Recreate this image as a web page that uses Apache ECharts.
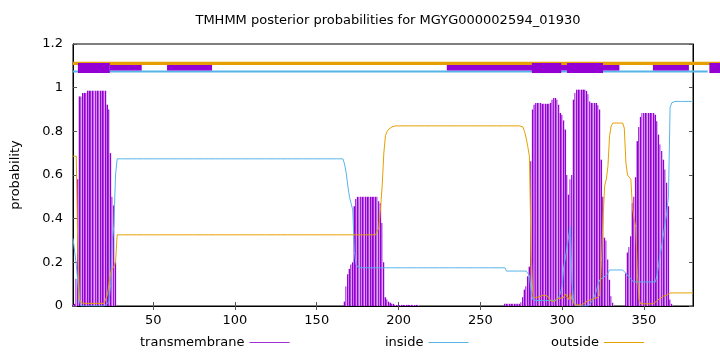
<!DOCTYPE html>
<html><head><meta charset="utf-8">
<script src="https://cdn.jsdelivr.net/npm/echarts@6/dist/echarts.min.js"></script>
<style>html,body{margin:0;padding:0;background:#fff}#c{width:720px;height:352px}</style>
</head><body><div id="c"></div>
<script>
const chartTitle = 'TMHMM posterior probabilities for MGYG000002594_01930';
const seqStart = 1;
const seqEnd = 380;
const xTickValues = [50, 100, 150, 200, 250, 300, 350];
const legendNames = ['transmembrane', 'inside', 'outside'];

// posterior probability per residue (1..380)
const tm = [
0.005,0.01,0.125,0.58,0.96,0.96,0.976,0.976,0.976,0.986,
0.986,0.986,0.986,0.986,0.986,0.986,0.986,0.986,0.986,0.986,
0.986,0.922,0.9,0.7,0.5,0.46,0.2,0,0,0,
0,0,0,0,0,0,0,0,0,0,
0,0,0,0,0,0,0,0,0,0,
0,0,0,0,0,0,0,0,0,0,
0,0,0,0,0,0,0,0,0,0,
0,0,0,0,0,0,0,0,0,0,
0,0,0,0,0,0,0,0,0,0,
0,0,0,0,0,0,0,0,0,0,
0,0,0,0,0,0,0,0,0,0,
0,0,0,0,0,0,0,0,0,0,
0,0,0,0,0,0,0,0,0,0,
0,0,0,0,0,0,0,0,0,0,
0,0,0,0,0,0,0,0,0,0,
0,0,0,0,0,0,0,0,0,0,
0,0,0,0,0,0,0.02,0.09,0.145,0.17,
0.19,0.2,0.457,0.49,0.5,0.5,0.5,0.5,0.5,0.5,
0.5,0.5,0.5,0.5,0.5,0.5,0.5,0.48,0.47,0.38,
0.2,0.04,0.03,0.02,0.015,0.01,0.01,0.005,0.005,0.005,
0.005,0.005,0.005,0.005,0.005,0.005,0.005,0.005,0.005,0.005,
0.005,0.005,0,0,0,0,0,0,0,0,
0,0,0,0,0,0,0,0,0,0,
0,0,0,0,0,0,0,0,0,0,
0,0,0,0,0,0,0,0,0,0,
0,0,0,0,0,0,0,0,0,0,
0,0,0,0,0.01,0.01,0.01,0.01,0.01,0.01,
0.01,0.01,0.01,0.01,0.017,0.04,0.075,0.09,0.136,0.18,
0.663,0.9,0.922,0.93,0.93,0.93,0.93,0.926,0.926,0.926,
0.926,0.926,0.93,0.945,0.953,0.953,0.945,0.922,0.884,0.876,
0.85,0.808,0.6,0.51,0.58,0.6,0.945,0.976,0.991,0.991,
0.991,0.991,0.991,0.991,0.985,0.97,0.937,0.93,0.93,0.93,
0.93,0.92,0.9,0.67,0.5,0.313,0.3,0.213,0.12,0.045,
0.015,0,0,0,0,0,0,0,0.15,0.245,
0.27,0.32,0.47,0.5,0.59,0.755,0.82,0.866,0.884,0.884,
0.884,0.884,0.884,0.884,0.884,0.884,0.876,0.846,0.785,0.74,
0.71,0.67,0.625,0.564,0.457,0.03,0.01,0,0,0,
0,0,0,0,0,0,0,0,0,0
];

const inside = [
0.31,0.31,0.19,0.19,0.02,0,0,0,0,0,
0,0,0,0,0,0,0,0,0,0,
0,0.01,0.02,0.1,0.3,0.37,0.6,0.674,0.674,0.674,
0.674,0.674,0.674,0.674,0.674,0.674,0.674,0.674,0.674,0.674,
0.674,0.674,0.674,0.674,0.674,0.674,0.674,0.674,0.674,0.674,
0.674,0.674,0.674,0.674,0.674,0.674,0.674,0.674,0.674,0.674,
0.674,0.674,0.674,0.674,0.674,0.674,0.674,0.674,0.674,0.674,
0.674,0.674,0.674,0.674,0.674,0.674,0.674,0.674,0.674,0.674,
0.674,0.674,0.674,0.674,0.674,0.674,0.674,0.674,0.674,0.674,
0.674,0.674,0.674,0.674,0.674,0.674,0.674,0.674,0.674,0.674,
0.674,0.674,0.674,0.674,0.674,0.674,0.674,0.674,0.674,0.674,
0.674,0.674,0.674,0.674,0.674,0.674,0.674,0.674,0.674,0.674,
0.674,0.674,0.674,0.674,0.674,0.674,0.674,0.674,0.674,0.674,
0.674,0.674,0.674,0.674,0.674,0.674,0.674,0.674,0.674,0.674,
0.674,0.674,0.674,0.674,0.674,0.674,0.674,0.674,0.674,0.674,
0.674,0.674,0.674,0.674,0.674,0.674,0.674,0.674,0.674,0.674,
0.674,0.674,0.674,0.674,0.674,0.674,0.65,0.61,0.55,0.5,
0.47,0.44,0.25,0.19,0.18,0.175,0.175,0.175,0.175,0.175,
0.175,0.175,0.175,0.175,0.175,0.175,0.175,0.175,0.175,0.175,
0.175,0.175,0.175,0.175,0.175,0.175,0.175,0.175,0.175,0.175,
0.175,0.175,0.175,0.175,0.175,0.175,0.175,0.175,0.175,0.175,
0.175,0.175,0.175,0.175,0.175,0.175,0.175,0.175,0.175,0.175,
0.175,0.175,0.175,0.175,0.175,0.175,0.175,0.175,0.175,0.175,
0.175,0.175,0.175,0.175,0.175,0.175,0.175,0.175,0.175,0.175,
0.175,0.175,0.175,0.175,0.175,0.175,0.175,0.175,0.175,0.175,
0.175,0.175,0.175,0.175,0.175,0.175,0.175,0.175,0.175,0.175,
0.175,0.175,0.175,0.175,0.175,0.16,0.16,0.16,0.16,0.16,
0.16,0.16,0.16,0.16,0.16,0.16,0.16,0.16,0.155,0.14,
0.075,0.03,0.025,0.025,0.025,0.025,0.025,0.025,0.025,0.025,
0.025,0.025,0.025,0.025,0.025,0.025,0.02,0.04,0.06,0.09,
0.18,0.22,0.27,0.32,0.365,0.12,0.02,0.005,0,0,
0,0,0,0,0,0,0,0.02,0.03,0.05,
0.07,0.1,0.12,0.125,0.13,0.135,0.14,0.15,0.165,0.165,
0.165,0.165,0.165,0.165,0.165,0.165,0.165,0.16,0.15,0.14,
0.136,0.125,0.114,0.11,0.11,0.11,0.11,0.11,0.11,0.11,
0.11,0.11,0.11,0.11,0.11,0.11,0.11,0.14,0.19,0.24,
0.28,0.33,0.38,0.43,0.5,0.91,0.93,0.937,0.937,0.937,
0.937,0.937,0.937,0.937,0.937,0.937,0.937,0.937,0.937,0.937
];

const outside = [
0.686,0.686,0.686,0.23,0.03,0.015,0.012,0.012,0.012,0.012,
0.012,0.012,0.012,0.012,0.012,0.012,0.012,0.012,0.012,0.012,
0.012,0.05,0.1,0.15,0.17,0.18,0.2,0.326,0.326,0.326,
0.326,0.326,0.326,0.326,0.326,0.326,0.326,0.326,0.326,0.326,
0.326,0.326,0.326,0.326,0.326,0.326,0.326,0.326,0.326,0.326,
0.326,0.326,0.326,0.326,0.326,0.326,0.326,0.326,0.326,0.326,
0.326,0.326,0.326,0.326,0.326,0.326,0.326,0.326,0.326,0.326,
0.326,0.326,0.326,0.326,0.326,0.326,0.326,0.326,0.326,0.326,
0.326,0.326,0.326,0.326,0.326,0.326,0.326,0.326,0.326,0.326,
0.326,0.326,0.326,0.326,0.326,0.326,0.326,0.326,0.326,0.326,
0.326,0.326,0.326,0.326,0.326,0.326,0.326,0.326,0.326,0.326,
0.326,0.326,0.326,0.326,0.326,0.326,0.326,0.326,0.326,0.326,
0.326,0.326,0.326,0.326,0.326,0.326,0.326,0.326,0.326,0.326,
0.326,0.326,0.326,0.326,0.326,0.326,0.326,0.326,0.326,0.326,
0.326,0.326,0.326,0.326,0.326,0.326,0.326,0.326,0.326,0.326,
0.326,0.326,0.326,0.326,0.326,0.326,0.326,0.326,0.326,0.326,
0.326,0.326,0.326,0.326,0.326,0.326,0.326,0.326,0.326,0.326,
0.326,0.326,0.326,0.326,0.326,0.326,0.326,0.326,0.326,0.326,
0.326,0.326,0.326,0.326,0.326,0.326,0.33,0.36,0.45,0.55,
0.7,0.78,0.8,0.81,0.815,0.82,0.823,0.825,0.825,0.825,
0.825,0.825,0.825,0.825,0.825,0.825,0.825,0.825,0.825,0.825,
0.825,0.825,0.825,0.825,0.825,0.825,0.825,0.825,0.825,0.825,
0.825,0.825,0.825,0.825,0.825,0.825,0.825,0.825,0.825,0.825,
0.825,0.825,0.825,0.825,0.825,0.825,0.825,0.825,0.825,0.825,
0.825,0.825,0.825,0.825,0.825,0.825,0.825,0.825,0.825,0.825,
0.825,0.825,0.825,0.825,0.825,0.825,0.825,0.825,0.825,0.825,
0.825,0.825,0.825,0.825,0.825,0.825,0.825,0.825,0.825,0.825,
0.825,0.825,0.825,0.825,0.825,0.82,0.8,0.77,0.73,0.686,
0.26,0.06,0.037,0.04,0.04,0.042,0.045,0.048,0.05,0.05,
0.045,0.035,0.025,0.02,0.02,0.025,0.035,0.04,0.035,0.03,
0.04,0.055,0.05,0.03,0.06,0.03,0.015,0.005,0.005,0.005,
0.005,0.005,0.01,0.015,0.02,0.025,0.03,0.03,0.03,0.035,
0.035,0.04,0.05,0.2,0.4,0.55,0.58,0.64,0.78,0.825,
0.838,0.838,0.838,0.838,0.838,0.838,0.838,0.815,0.655,0.6,
0.59,0.58,0.45,0.4,0.36,0.15,0.03,0.01,0.01,0.01,
0.01,0.01,0.01,0.01,0.01,0.01,0.015,0.025,0.03,0.035,
0.04,0.045,0.05,0.05,0.055,0.06,0.06,0.06,0.06,0.06,
0.06,0.06,0.06,0.06,0.06,0.06,0.06,0.06,0.06,0.06
];

// topology bars above the plot: [start, end] in residue units
const topoOutside = [[1, 398]];
const topoInside = [[1, 389]];
const topoTmThin = [[23.5, 43], [58.5, 86], [229.5, 335], [355.5, 377.5]];
const topoTmThick = [[4, 23.5], [281.5, 299.5], [303, 325], [390, 397]];

const PURPLE = '#9400d3', BLUE = '#56b4e9', ORANGE = '#e69f00';
const FONT = 'DejaVu Sans';

function toPairs(arr) { return arr.map((v, i) => [seqStart + i, v]); }

function bandSeries(name, segs, yLow, yHigh, color, z) {
  return {
    name: name, type: 'custom', silent: true, clip: false, z: z,
    encode: { x: [0, 1] },
    data: segs,
    renderItem: function (params, api) {
      const a = api.coord([api.value(0), yHigh]);
      const b = api.coord([api.value(1), yLow]);
      return { type: 'rect', shape: { x: a[0], y: a[1], width: b[0] - a[0], height: b[1] - a[1] },
               style: { fill: color } };
    }
  };
}

const impulseFill = new echarts.graphic.LinearGradient(0, 0, 1, 0, [
  { offset: 0, color: '#9400d3' }, { offset: 0.6, color: '#9400d3' },
  { offset: 0.62, color: '#d7a6f1' }, { offset: 1, color: '#d7a6f1' }
]);

const chart = echarts.init(document.getElementById('c'), null, { renderer: 'canvas' });
const legendCommon = { top: 331, itemWidth: 40, itemHeight: 1, icon: 'rect', align: 'right',
  textStyle: { fontFamily: FONT, fontSize: 13, color: '#000' }, selectedMode: false };
chart.setOption({
  animation: false,
  backgroundColor: '#fff',
  title: { text: chartTitle, left: 383, textAlign: 'center', top: 9,
    textStyle: { fontFamily: FONT, fontSize: 13, fontWeight: 'normal', color: '#000' } },
  grid: { left: 73, right: 27, top: 44, bottom: 46, show: true, borderColor: '#000', borderWidth: 1, backgroundColor: 'transparent' },
  legend: [
    Object.assign({ left: 135, data: [{ name: legendNames[0], itemStyle: { color: '#a030d8' } }] }, legendCommon),
    Object.assign({ left: 380, data: [{ name: legendNames[1], itemStyle: { color: BLUE } }] }, legendCommon),
    Object.assign({ left: 546, data: [{ name: legendNames[2], itemStyle: { color: ORANGE } }] }, legendCommon)
  ],
  xAxis: [
    { type: 'value', min: seqStart, max: seqEnd, position: 'bottom',
      axisLine: { show: true, onZero: false, lineStyle: { color: '#000', width: 1 } },
      axisTick: { inside: true, length: 4, customValues: xTickValues, lineStyle: { color: '#555' } },
      axisLabel: { customValues: xTickValues, margin: 8, fontFamily: FONT, fontSize: 13, color: '#000' },
      splitLine: { show: false } },
    { type: 'value', min: seqStart, max: seqEnd, position: 'top',
      axisLine: { show: true, lineStyle: { color: '#000', width: 1 } },
      axisTick: { inside: true, length: 4, customValues: xTickValues, lineStyle: { color: '#555' } },
      axisLabel: { show: false }, splitLine: { show: false } }
  ],
  yAxis: [
    { type: 'value', min: 0, max: 1.2, interval: 0.2, position: 'left',
      name: 'probability', nameLocation: 'middle', nameGap: 51, nameRotate: 90,
      nameTextStyle: { fontFamily: FONT, fontSize: 13, color: '#000' },
      axisLine: { show: true, lineStyle: { color: '#000', width: 1 } },
      axisTick: { show: true, inside: true, length: 4, lineStyle: { color: '#555' } },
      axisLabel: { margin: 10, fontFamily: FONT, fontSize: 13, color: '#000' },
      splitLine: { show: false } },
    { type: 'value', min: 0, max: 1.2, interval: 0.2, position: 'right',
      axisLine: { show: true, lineStyle: { color: '#000', width: 1 } },
      axisTick: { show: true, inside: true, length: 4, lineStyle: { color: '#555' } },
      axisLabel: { show: false }, splitLine: { show: false } }
  ],
  series: [
    { name: 'transmembrane', type: 'bar', data: toPairs(tm), barWidth: 1.63,
      itemStyle: { color: impulseFill }, z: 2, silent: true },
    { name: 'inside', type: 'line', data: toPairs(inside), showSymbol: false, symbol: 'none',
      lineStyle: { color: BLUE, width: 1 }, itemStyle: { color: BLUE }, z: 3, silent: true },
    { name: 'outside', type: 'line', data: toPairs(outside), showSymbol: false, symbol: 'none',
      lineStyle: { color: ORANGE, width: 1 }, itemStyle: { color: ORANGE }, z: 4, silent: true },
    bandSeries('topoOutside', topoOutside, 1.104, 1.119, ORANGE, 5),
    bandSeries('topoInside', topoInside, 1.069, 1.079, BLUE, 5),
    bandSeries('topoTmThin', topoTmThin, 1.079, 1.104, PURPLE, 6),
    bandSeries('topoTmThick', topoTmThick, 1.067, 1.113, PURPLE, 7)
  ]
});
</script>
</body></html>
